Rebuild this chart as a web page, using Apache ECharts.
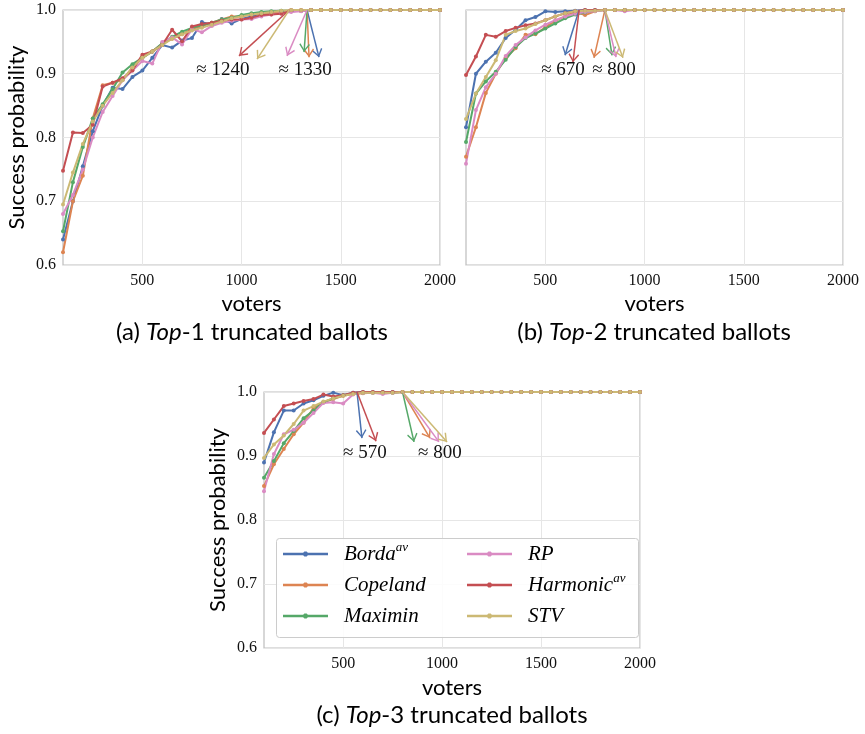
<!DOCTYPE html>
<html>
<head>
<meta charset="utf-8">
<script src="https://cdn.jsdelivr.net/npm/echarts@6/dist/echarts.min.js"></script>
<style>
  html, body { margin: 0; background: #fff; }
  #chart { width: 865px; height: 734px; }
</style>
</head>
<body>
<div id="chart"></div>
<script>
// x values (number of voters), shared by all three panels
const voters = [100, 150, 200, 250, 300, 350, 400, 450, 500, 550,
  600, 650, 700, 750, 800, 850, 900, 950, 1000, 1050,
  1100, 1150, 1200, 1250, 1300, 1350, 1400, 1450, 1500, 1550,
  1600, 1650, 1700, 1750, 1800, 1850, 1900, 1950, 2000];

const methods = ['Borda', 'Copeland', 'Maximin', 'RP', 'Harmonic', 'STV'];
const colors = ['#4c72b0', '#dd8452', '#55a868', '#da8bc3', '#c44e52', '#ccb974'];
const xTicks = [500, 1000, 1500, 2000];

// (a) Top-1 truncated ballots
const top1Borda = [0.64, 0.70, 0.755, 0.81, 0.85, 0.878, 0.876, 0.895, 0.905, 0.925,
  0.945, 0.941, 0.952, 0.956, 0.981, 0.977, 0.986, 0.979, 0.986, 0.99,
  0.995, 0.997, 0.998, 0.998, 0.999, 1, 1, 1, 1, 1,
  1, 1, 1, 1, 1, 1, 1, 1, 1];
const top1Copeland = [0.62, 0.70, 0.74, 0.83, 0.882, 0.886, 0.89, 0.91, 0.925, 0.935,
  0.947, 0.955, 0.962, 0.97, 0.975, 0.98, 0.985, 0.99, 0.99, 0.993,
  0.995, 0.996, 0.997, 0.998, 0.999, 1, 1, 1, 1, 1,
  1, 1, 1, 1, 1, 1, 1, 1, 1];
const top1Maximin = [0.653, 0.73, 0.785, 0.83, 0.852, 0.876, 0.902, 0.915, 0.925, 0.935,
  0.948, 0.958, 0.966, 0.972, 0.976, 0.98, 0.985, 0.988, 0.992, 0.995,
  0.997, 0.998, 0.999, 0.999, 0.999, 1, 1, 1, 1, 1,
  1, 1, 1, 1, 1, 1, 1, 1, 1];
const top1RP = [0.68, 0.71, 0.75, 0.80, 0.84, 0.865, 0.89, 0.905, 0.92, 0.916,
  0.95, 0.957, 0.946, 0.97, 0.965, 0.975, 0.98, 0.983, 0.985, 0.986,
  0.99, 0.993, 0.995, 0.997, 0.998, 1, 1, 1, 1, 1,
  1, 1, 1, 1, 1, 1, 1, 1, 1];
const top1Harmonic = [0.748, 0.808, 0.807, 0.82, 0.88, 0.886, 0.893, 0.905, 0.93, 0.935,
  0.945, 0.969, 0.951, 0.974, 0.978, 0.98, 0.983, 0.985, 0.985, 0.988,
  0.992, 0.993, 0.994, 1, 1, 1, 1, 1, 1, 1,
  1, 1, 1, 1, 1, 1, 1, 1, 1];
const top1STV = [0.695, 0.745, 0.79, 0.825, 0.85, 0.87, 0.89, 0.91, 0.925, 0.935,
  0.945, 0.955, 0.962, 0.968, 0.972, 0.977, 0.982, 0.987, 0.99, 0.993,
  0.995, 0.997, 0.999, 1, 1, 1, 1, 1, 1, 1,
  1, 1, 1, 1, 1, 1, 1, 1, 1];

// (b) Top-2 truncated ballots
const top2Borda = [0.816, 0.900, 0.919, 0.933, 0.956, 0.969, 0.984, 0.989, 0.998, 0.997,
  0.998, 0.999, 1, 1, 1, 1, 1, 1, 1, 1,
  1, 1, 1, 1, 1, 1, 1, 1, 1, 1,
  1, 1, 1, 1, 1, 1, 1, 1, 1];
const top2Copeland = [0.77, 0.816, 0.87, 0.90, 0.925, 0.94, 0.961, 0.962, 0.973, 0.983,
  0.99, 0.997, 0.992, 0.998, 1, 1, 1, 1, 1, 1,
  1, 1, 1, 1, 1, 1, 1, 1, 1, 1,
  1, 1, 1, 1, 1, 1, 1, 1, 1];
const top2Maximin = [0.793, 0.869, 0.888, 0.903, 0.922, 0.942, 0.956, 0.963, 0.971, 0.979,
  0.987, 0.993, 0.996, 0.999, 1, 1, 1, 1, 1, 1,
  1, 1, 1, 1, 1, 1, 1, 1, 1, 1,
  1, 1, 1, 1, 1, 1, 1, 1, 1];
const top2RP = [0.759, 0.843, 0.879, 0.9, 0.928, 0.945, 0.957, 0.968, 0.977, 0.984,
  0.99, 0.994, 0.997, 0.998, 1, 1, 0.998, 1, 1, 1,
  1, 1, 1, 1, 1, 1, 1, 1, 1, 1,
  1, 1, 1, 1, 1, 1, 1, 1, 1];
const top2Harmonic = [0.898, 0.927, 0.961, 0.958, 0.967, 0.972, 0.976, 0.979, 0.984, 0.99,
  0.995, 0.998, 1, 1, 1, 1, 1, 1, 1, 1,
  1, 1, 1, 1, 1, 1, 1, 1, 1, 1,
  1, 1, 1, 1, 1, 1, 1, 1, 1];
const top2STV = [0.829, 0.869, 0.895, 0.921, 0.961, 0.967, 0.971, 0.978, 0.984, 0.99,
  0.995, 0.998, 0.999, 0.999, 1, 1, 1, 1, 1, 1,
  1, 1, 1, 1, 1, 1, 1, 1, 1, 1,
  1, 1, 1, 1, 1, 1, 1, 1, 1];

// (c) Top-3 truncated ballots
const top3Borda = [0.89, 0.937, 0.971, 0.971, 0.982, 0.987, 0.994, 0.999, 0.995, 0.999,
  1, 1, 1, 1, 1, 1, 1, 1, 1, 1,
  1, 1, 1, 1, 1, 1, 1, 1, 1, 1,
  1, 1, 1, 1, 1, 1, 1, 1, 1];
const top3Copeland = [0.853, 0.887, 0.911, 0.934, 0.952, 0.975, 0.984, 0.989, 0.994, 0.997,
  0.998, 0.999, 0.999, 0.999, 1, 1, 1, 1, 1, 1,
  1, 1, 1, 1, 1, 1, 1, 1, 1, 1,
  1, 1, 1, 1, 1, 1, 1, 1, 1];
const top3Maximin = [0.866, 0.892, 0.92, 0.939, 0.959, 0.971, 0.984, 0.99, 0.995, 0.998,
  0.999, 0.999, 0.999, 0.999, 1, 1, 1, 1, 1, 1,
  1, 1, 1, 1, 1, 1, 1, 1, 1, 1,
  1, 1, 1, 1, 1, 1, 1, 1, 1];
const top3RP = [0.845, 0.903, 0.934, 0.941, 0.952, 0.967, 0.983, 0.984, 0.982, 0.996,
  0.999, 0.999, 0.997, 0.999, 1, 1, 1, 1, 1, 1,
  1, 1, 1, 1, 1, 1, 1, 1, 1, 1,
  1, 1, 1, 1, 1, 1, 1, 1, 1];
const top3Harmonic = [0.936, 0.957, 0.978, 0.982, 0.986, 0.989, 0.996, 0.993, 0.995, 0.999,
  1, 1, 1, 1, 1, 1, 1, 1, 1, 1,
  1, 1, 1, 1, 1, 1, 1, 1, 1, 1,
  1, 1, 1, 1, 1, 1, 1, 1, 1];
const top3STV = [0.897, 0.918, 0.932, 0.95, 0.971, 0.978, 0.985, 0.99, 0.994, 0.997,
  0.999, 0.999, 0.999, 0.999, 1, 1, 1, 1, 1, 1,
  1, 1, 1, 1, 1, 1, 1, 1, 1, 1,
  1, 1, 1, 1, 1, 1, 1, 1, 1];

// annotation arrows, per method: [voters where 1.0 is reached, arrow tip voters, arrow tip probability]
const top1Arrows = [[1330, 1390, 0.926], [1330, 1340, 0.926], [1330, 1315, 0.934],
  [1330, 1229, 0.928], [1240, 987, 0.928], [1240, 1078, 0.923]];
const top2Arrows = [[670, 599, 0.929], [800, 745, 0.925], [800, 836, 0.929],
  [800, 856, 0.926], [670, 639, 0.918], [800, 891, 0.925]];
const top3Arrows = [[570, 595, 0.928], [800, 939, 0.928], [800, 858, 0.922],
  [800, 984, 0.922], [570, 666, 0.923], [800, 1025, 0.922]];

// annotation texts: [text, voters, probability]
const top1Notes = [['≈ 1240', 906, 0.906], ['≈ 1330', 1320, 0.906]];
const top2Notes = [['≈ 670', 589, 0.906], ['≈ 800', 846, 0.906]];
const top3Notes = [['≈ 570', 610, 0.905], ['≈ 800', 989, 0.905]];

const panels = [
  { values: [top1Borda, top1Copeland, top1Maximin, top1RP, top1Harmonic, top1STV], arrows: top1Arrows, notes: top1Notes },
  { values: [top2Borda, top2Copeland, top2Maximin, top2RP, top2Harmonic, top2STV], arrows: top2Arrows, notes: top2Notes },
  { values: [top3Borda, top3Copeland, top3Maximin, top3RP, top3Harmonic, top3STV], arrows: top3Arrows, notes: top3Notes }
];

const grids = [
  { left: 63, top: 10, width: 377, height: 255 },
  { left: 466, top: 10, width: 377, height: 255 },
  { left: 264, top: 392, width: 376, height: 256 }
];

const serif = 'Liberation Serif';
const sans = 'Lato';
// open arrow head, tip at the centre of its box
const arrowHead = 'path://M5,0L10,7L9,8L5,2.2L1,8L0,7ZM-3,-8L-3,-8ZM13,8L13,8Z';
// legend icon: thin line with a small dot in the middle
const legendIcon = 'path://M0,0L0,0ZM45,14L45,14ZM0,5.8L45,5.8L45,8.2L0,8.2Z' +
  'M21.4,4.4L23.6,4.4L25.1,5.9L25.1,8.1L23.6,9.6L21.4,9.6L19.9,8.1L19.9,5.9Z';

const series = [];
panels.forEach((panel, p) => {
  methods.forEach((m, i) => {
    const arrow = panel.arrows[i];
    const s = {
      type: 'line',
      name: m,
      xAxisIndex: p,
      yAxisIndex: p,
      data: voters.map((v, j) => [v, panel.values[i][j]]),
      color: colors[i],
      symbol: 'circle',
      symbolSize: 4,
      clip: false,
      lineStyle: { width: 2 },
      emphasis: { disabled: true },
      markLine: {
        silent: true,
        symbol: ['none', arrowHead],
        symbolSize: 17,
        label: { show: false },
        lineStyle: { color: colors[i], width: 1.5, type: 'solid' },
        data: [[{ coord: [arrow[0], 1] }, { coord: [arrow[1], arrow[2]] }]]
      }
    };
    if (i === 0) {
      s.markPoint = {
        silent: true,
        symbol: 'circle',
        symbolSize: 1,
        itemStyle: { color: 'transparent' },
        label: {
          show: true, position: 'inside', formatter: '{b}',
          fontFamily: serif, fontSize: 19, color: '#111'
        },
        data: panel.notes.map(n => ({ name: n[0], coord: [n[1], n[2]] }))
      };
    }
    series.push(s);
  });
});

const legendText = {
  color: '#000',
  lineHeight: 26,
  rich: {
    n: { fontFamily: serif, fontStyle: 'italic', fontSize: 21, lineHeight: 26, padding: [0, 0, 0, 11], color: '#000' },
    s: { fontFamily: serif, fontStyle: 'italic', fontSize: 13, lineHeight: 13, verticalAlign: 'top', color: '#000' }
  }
};
const legendFormat = name => (name === 'Borda' || name === 'Harmonic') ? '{n|' + name + '}{s|av}' : '{n|' + name + '}';

const titleStyle = {
  fontFamily: sans, fontSize: 24, fontWeight: 'normal', color: '#000',
  rich: { i: { fontFamily: sans, fontSize: 24, fontStyle: 'italic', color: '#000' } }
};

const option = {
  animation: false,
  backgroundColor: '#fff',
  title: [
    { text: '(a) {i|Top}-1 truncated ballots', left: 252, top: 320, textAlign: 'center', padding: 0, textStyle: titleStyle },
    { text: '(b) {i|Top}-2 truncated ballots', left: 654, top: 320, textAlign: 'center', padding: 0, textStyle: titleStyle },
    { text: '(c) {i|Top}-3 truncated ballots', left: 452, top: 703, textAlign: 'center', padding: 0, textStyle: titleStyle }
  ],
  grid: grids.map(g => Object.assign({
    show: true, borderColor: '#bdbdbd', borderWidth: 1.2, outerBoundsMode: 'none'
  }, g)),
  xAxis: grids.map((g, p) => ({
    gridIndex: p,
    type: 'value',
    min: 100,
    max: 2000,
    name: 'voters',
    nameLocation: 'middle',
    nameGap: p === 2 ? 29 : 28,
    nameTextStyle: { fontFamily: sans, fontSize: 22, color: '#000' },
    axisLine: { show: false },
    axisTick: { show: false, customValues: xTicks },
    axisLabel: { customValues: xTicks, formatter: v => String(v), fontFamily: serif, fontSize: 16, color: '#111', margin: 8 },
    splitLine: { show: true, lineStyle: { color: '#e6e6e6', width: 1 } }
  })),
  yAxis: grids.map((g, p) => ({
    gridIndex: p,
    type: 'value',
    min: 0.6,
    max: 1.0,
    interval: 0.1,
    name: p === 1 ? '' : 'Success probability',
    nameLocation: 'middle',
    nameGap: 35,
    nameTextStyle: { fontFamily: sans, fontSize: 22, color: '#000' },
    axisLine: { show: false },
    axisTick: { show: false },
    axisLabel: { show: p !== 1, formatter: v => v.toFixed(1), fontFamily: serif, fontSize: 16, color: '#111', margin: 7 },
    splitLine: { show: true, lineStyle: { color: '#e6e6e6', width: 1 } }
  })),
  legend: [
    { data: ['Borda', 'Copeland', 'Maximin'], orient: 'vertical', left: 283, top: 541, padding: 0, icon: legendIcon,
      itemWidth: 45, itemHeight: 14, itemGap: 5, textStyle: legendText, formatter: legendFormat, selectedMode: false },
    { data: ['RP', 'Harmonic', 'STV'], orient: 'vertical', left: 467, top: 541, padding: 0, icon: legendIcon,
      itemWidth: 45, itemHeight: 14, itemGap: 5, textStyle: legendText, formatter: legendFormat, selectedMode: false }
  ],
  graphic: [{
    type: 'rect', left: 276, top: 538, z: 3,
    shape: { width: 362, height: 99, r: 3 },
    style: { fill: 'rgba(255,255,255,0.85)', stroke: '#cccccc', lineWidth: 1 }
  }],
  series: series
};

const chart = echarts.init(document.getElementById('chart'));
chart.setOption(option);
</script>
</body>
</html>
